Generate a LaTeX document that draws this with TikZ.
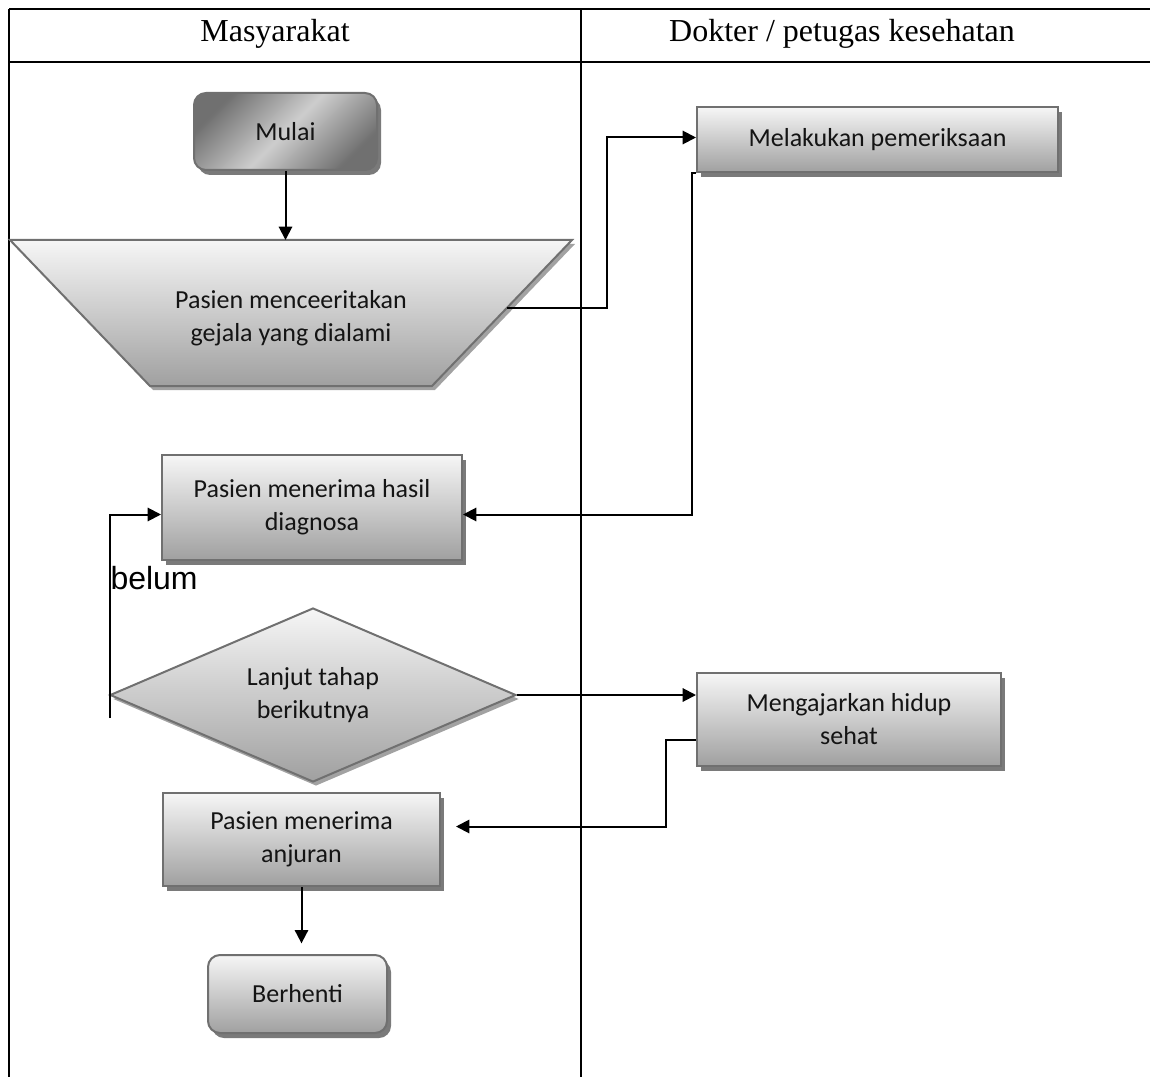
\documentclass[tikz,border=0pt]{standalone}
\usepackage{fontspec}
\setmainfont{Liberation Serif}
\newfontfamily\calibrifont{Carlito}
\newfontfamily\arialfont{Liberation Sans}
\usetikzlibrary{shapes.geometric,arrows.meta,shadows,calc}

\definecolor{boxline}{RGB}{112,112,112}
\definecolor{boxshadow}{RGB}{122,122,122}
\definecolor{boxtop}{RGB}{246,246,246}
\definecolor{boxbottom}{RGB}{160,160,160}

\tikzset{every picture/.style={line width=0.75pt}}
\tikzset{
  flowtext/.style={font=\calibrifont\fontsize{19.5}{24.75}\selectfont, align=center, text={rgb, 255:red, 20; green, 20; blue, 20}},
  flowshadow/.style={general shadow={fill=boxshadow, shadow xshift=3pt, shadow yshift=-3.75pt}},
  flowbox/.style={rectangle, draw=boxline, line width=1.5pt, top color=boxtop, bottom color=boxbottom, inner sep=0pt, flowshadow, flowtext},
  terminal/.style={flowbox, rounded corners=9pt},
  flowline/.style={line width=1.5pt, -{Triangle[length=10pt,width=10pt]}},
}

\begin{document}
\begin{tikzpicture}[x=0.75pt,y=0.75pt,yscale=-1,xscale=1]
\useasboundingbox (0,0) rectangle (1150,1077);

%Table lines
\draw [line width=1.8pt] (9,9) -- (1150,9);
\draw [line width=1.2pt] (9,62) -- (1150,62);
\draw [line width=1.1pt] (9,9) -- (9,1077);
\draw [line width=1.1pt] (581,9) -- (581,1077);

% Text Node
\node [font=\fontsize{24}{28}\selectfont] (masy) at (275,34) {Masyarakat};
% Text Node
\node [font=\fontsize{24}{28}\selectfont] (dokter) at (842,34) {Dokter / petugas kesehatan};

%Shape: Rounded Rectangle
\node [terminal, top color=boxline, bottom color=boxline, middle color={rgb, 255:red, 205; green, 205; blue, 205}, shading angle=45, minimum width=137.25pt, minimum height=57.75pt] (mulai) at (285.5,131.5) {Mulai};
%Shape: Trapezoid
\path [draw=boxline, line width=1.5pt, top color=boxtop, bottom color=boxbottom, general shadow={fill=boxshadow!70, shadow xshift=2.25pt, shadow yshift=-3pt}] (10,240) -- (572,240) -- (432,386) -- (150,386) -- cycle;
\coordinate (gejalaatas) at (291,240);
\coordinate (gejalakanan) at (507,308);
% Text Node
\node [flowtext] (gejala) at (291,318) {Pasien menceeritakan\\gejala yang dialami};
%Shape: Rectangle
\node [flowbox, minimum width=270.75pt, minimum height=48.75pt] (periksa) at (877.5,139.5) {Melakukan pemeriksaan};
%Shape: Rectangle
\node [flowbox, minimum width=225pt, minimum height=78.75pt] (diagnosa) at (312,507.5) {Pasien menerima hasil\\diagnosa};
%Shape: Diamond
\node [diamond, aspect=2.33, draw=boxline, line width=1.5pt, top color=boxtop, bottom color=boxbottom, inner sep=0pt, general shadow={fill=boxshadow!70, shadow xshift=2.25pt, shadow yshift=-3pt}, flowtext, minimum width=304.5pt, minimum height=130.5pt] (lanjut) at (313,695) {Lanjut tahap\\berikutnya};
%Shape: Rectangle
\node [flowbox, minimum width=228pt, minimum height=69.75pt] (ajar) at (849,719.5) {Mengajarkan hidup\\sehat};
%Shape: Rectangle
\node [flowbox, minimum width=207.75pt, minimum height=69.75pt] (anjuran) at (301.5,839.5) {Pasien menerima\\anjuran};
%Shape: Rounded Rectangle
\node [terminal, minimum width=134.25pt, minimum height=58.5pt] (berhenti) at (297.5,994) {Berhenti};

% Text Node
\node [anchor=west, font=\arialfont\fontsize{24}{28}\selectfont, inner sep=0pt] (belum) at (110,578) {belum};
\coordinate (belumawal) at (110,718);

%Straight Lines
\draw [flowline] (mulai.south) -- (mulai.south |- gejalaatas);
%Straight Lines
\draw [flowline] (gejalakanan) -- ++(100,0) |- ($(periksa.west)+(0,-2)$);
%Straight Lines
\draw [flowline] (periksa.south west) -- ++(-4,0) |- ($(diagnosa.east)+(0,7)$);
%Straight Lines
\draw [flowline] (belumawal) |- ($(diagnosa.west)+(0,7)$);
%Straight Lines
\draw [flowline] (lanjut.east) -- (lanjut.east -| ajar.west);
%Straight Lines
\draw [flowline] ($(ajar.west)+(0,20)$) -- ++(-30,0) |- ($(anjuran.east)+(15,-13)$);
%Straight Lines
\draw [flowline, shorten >=8pt] (anjuran.south) -- (anjuran.south |- berhenti.north);

\end{tikzpicture}
\end{document}
